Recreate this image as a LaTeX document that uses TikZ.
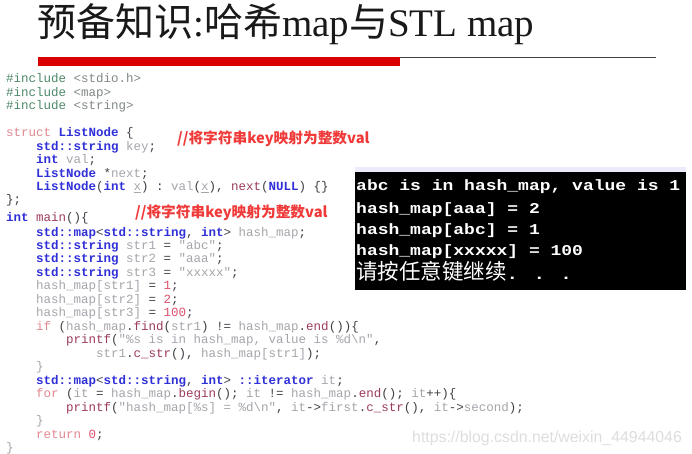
\documentclass[tikz,border=0pt]{standalone}
\usepackage{fontspec}
\setmainfont{Liberation Serif}
\setmonofont{Liberation Mono}
\setsansfont{Liberation Sans}
\newfontfamily\cjk{Noto Sans CJK SC}
\newfontfamily\termfont[FakeStretch=1.2,UprightFont=* Bold]{Liberation Mono}
\definecolor{kwblue}{HTML}{3030D8}
\definecolor{idgray}{HTML}{A8A4AC}
\definecolor{fnred}{HTML}{9C3C5C}
\definecolor{kwpink}{HTML}{E08890}
\definecolor{numred}{HTML}{E0506C}
\definecolor{opdark}{HTML}{404048}
\definecolor{incgreen}{HTML}{4E8A6A}
\definecolor{incgray}{HTML}{808888}
\definecolor{anno}{HTML}{F03A3A}
\newcommand{\ckw}[1]{\textcolor{kwblue}{\bfseries #1}}
\newcommand{\cid}[1]{\textcolor{idgray}{#1}}
\newcommand{\cfn}[1]{\textcolor{fnred}{#1}}
\newcommand{\cpk}[1]{\textcolor{kwpink}{#1}}
\newcommand{\cnm}[1]{\textcolor{numred}{#1}}
\newcommand{\cinc}{\textcolor{incgreen}{\#include}}
\newcommand{\chd}[1]{\textcolor{incgray}{#1}}
\tikzset{
  x=1pt,y=-1pt,
  code/.style={anchor=base west,inner sep=0pt,font=\ttfamily\fontsize{12.5}{12.5}\selectfont,text=opdark},
  term/.style={anchor=base west,inner sep=0pt,text=white,font=\termfont\fontsize{15}{15}\selectfont},
  annot/.style={anchor=base west,inner sep=0pt,text=anno,font=\cjk\bfseries\fontsize{14.7}{14.7}\selectfont},
}
\begin{document}
\begin{tikzpicture}
\useasboundingbox (0,0) rectangle (692,454);
\fill[white] (0,0) rectangle (692,454);
\node[anchor=base west,inner sep=0pt,font=\fontsize{39}{39}\selectfont,text=black!90] (title) at (37,36.5)
  {{\cjk 预备知识}:{\cjk 哈希}map{\cjk 与}STL map};
\draw[black!75,line width=0.7pt] (38,57.5) -- (656,57.5);
\fill[red!85!black] (38,57) rectangle (400,66);
\node[code] (l1) at (6,83) {\cinc\ \chd{<stdio.h>}};
\node[code] (l2) at (6,96.5) {\cinc\ \chd{<map>}};
\node[code] (l3) at (6,110) {\cinc\ \chd{<string>}};
\node[code] (l4) at (6,137) {\cpk{struct} \ckw{ListNode} \{};
\node[code] (l5) at (36,150.5) {\ckw{std::string} \cid{key};};
\node[code] (l6) at (36,164) {\ckw{int} \cid{val};};
\node[code] (l7) at (36,177.5) {\ckw{ListNode} *\cid{next};};
\node[code] (l8) at (36,191) {\ckw{ListNode}(\ckw{int} \cid{\underline{x}}) : \cid{val}(\cid{\underline{x}}), \cfn{next}(\ckw{NULL}) \{\}};
\node[code] (l9) at (6,204) {\};};
\node[code] (l10) at (6,222) {\ckw{int} \cfn{main}()\{};
\node[code] (l11) at (36,236) {\ckw{std::map}<\ckw{std::string}, \ckw{int}> \cid{hash\_map};};
\node[code] (l12) at (36,249) {\ckw{std::string} \cid{str1} = \cid{"abc"};};
\node[code] (l13) at (36,262.5) {\ckw{std::string} \cid{str2} = \cid{"aaa"};};
\node[code] (l14) at (36,276) {\ckw{std::string} \cid{str3} = \cid{"xxxxx"};};
\node[code] (l15) at (36,289.5) {\cid{hash\_map[str1]} = \cnm{1};};
\node[code] (l16) at (36,303) {\cid{hash\_map[str2]} = \cnm{2};};
\node[code] (l17) at (36,316.5) {\cid{hash\_map[str3]} = \cnm{100};};
\node[code] (l18) at (36,330) {\cpk{if} (\cid{hash\_map}.\cfn{find}(\cid{str1}) != \cid{hash\_map}.\cfn{end}())\{};
\node[code] (l19) at (66,343.5) {\cfn{printf}(\cid{"\%s is in hash\_map, value is \%d\textbackslash n"},};
\node[code] (l20) at (96,357) {\cid{str1}.\cfn{c\_str}(), \cid{hash\_map[str1]});};
\node[code] (l21) at (36,370.5) {\cid{\}}};
\node[code] (l22) at (36,384) {\ckw{std::map}<\ckw{std::string}, \ckw{int}> \ckw{::iterator} \cid{it};};
\node[code] (l23) at (36,397) {\cpk{for} (\cid{it} = \cid{hash\_map}.\cfn{begin}(); \cid{it} != \cid{hash\_map}.\cfn{end}(); \cid{it}++)\{};
\node[code] (l24) at (66,411) {\cfn{printf}(\cid{"hash\_map[\%s] = \%d\textbackslash n"}, \cid{it}->\cid{first}.\cfn{c\_str}(), \cid{it}->\cid{second});};
\node[code] (l25) at (36,424.5) {\cid{\}}};
\node[code] (l26) at (36,438) {\cpk{return} \cnm{0};};
\node[code] (l27) at (6,451) {\cid{\}}};
\node[annot] (a1) at (177,144) {//将字符串key映射为整数val};
\node[annot] (a2) at (135,218) {//将字符串key映射为整数val};
\fill[black!12!blue!8!white] (355,167) rectangle (686,173);
\fill[black] (355,172) rectangle (686,290);
\node[term] (t1) at (356,190) {abc is in hash\_map, value is 1};
\node[term] (t2) at (356,213) {hash\_map[aaa] = 2};
\node[term] (t3) at (356,234) {hash\_map[abc] = 1};
\node[term] (t4) at (356,255) {hash\_map[xxxxx] = 100};
\node[anchor=base west,inner sep=0pt,text=white,font=\fontsize{21.5}{21.5}\selectfont] (t5) at (356,279) {{\cjk 请按任意键继续}{\termfont\fontsize{16}{16}\selectfont . . .}};
\node[anchor=base west,inner sep=0pt,text=black!13,font=\sffamily\fontsize{15.85}{15.85}\selectfont] (wm) at (412,442) {https://blog.csdn.net/weixin\_44944046};
\end{tikzpicture}
\end{document}
